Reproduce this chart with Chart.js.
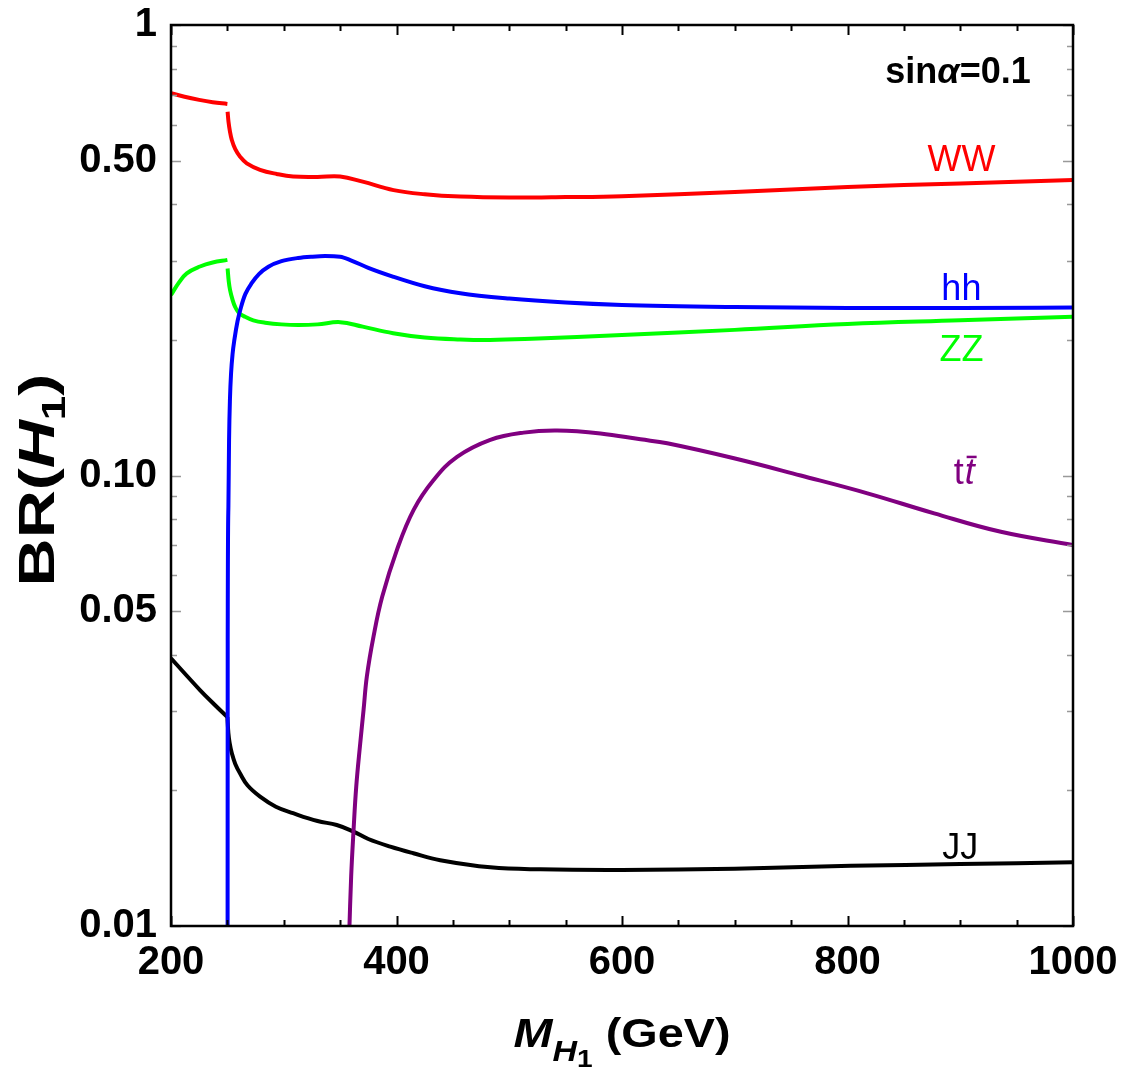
<!DOCTYPE html>
<html><head><meta charset="utf-8">
<script src="https://cdn.jsdelivr.net/npm/chart.js@4.4.1/dist/chart.umd.min.js"></script>
<style>html,body{margin:0;padding:0;background:#fff;}</style>
</head><body>
<canvas id="c" width="1125" height="1073"></canvas>
<script>
// ---- tick labels ----
const xTickValues = [200, 400, 600, 800, 1000];
const xTickLabels = ['200', '400', '600', '800', '1000'];
const yTickValues = [0.01, 0.05, 0.1, 0.5, 1];
const yTickLabels = ['0.01', '0.05', '0.10', '0.50', '1'];

// ---- series (mass in GeV, branching ratio); null = break in the curve ----
const wwMass = [200, 212, 225, 237, 250, 250.1, 250.2, 251, 252.3, 253.9, 257, 261.3, 267.2, 279, 293.8, 308.3, 330, 350, 370, 397.4, 425, 456.6, 500, 550, 600, 700, 800, 900, 1000];
const wwBR   = [0.706, 0.693, 0.682, 0.674, 0.668, null, 0.642, 0.61, 0.58, 0.556, 0.53, 0.510, 0.493, 0.477, 0.467, 0.461, 0.460, 0.461, 0.449, 0.430, 0.421, 0.416, 0.414, 0.415, 0.417, 0.426, 0.437, 0.445, 0.453];

const hhMass = [250.2, 250.3, 250.9, 251.5, 252.3, 253.3, 254.6, 256.2, 259, 262.2, 266, 271.7, 278, 286.4, 298, 312.8, 325, 336.7, 350, 360, 375, 397.4, 425, 456.6, 500, 550, 600, 700, 800, 900, 1000];
const hhBR   = [0.0095, 0.043, 0.085, 0.12, 0.148, 0.169, 0.186, 0.2, 0.22, 0.237, 0.253, 0.2676, 0.28, 0.2907, 0.299, 0.304, 0.306, 0.307, 0.306, 0.300, 0.289, 0.276, 0.263, 0.2538, 0.247, 0.242, 0.239, 0.2365, 0.2355, 0.2355, 0.236];

const zzMass = [200, 207, 214, 225.7, 237, 250, 250.1, 250.2, 251.2, 252.4, 254.5, 256.8, 260, 265.7, 273, 283.5, 298, 312.8, 330, 350, 370, 397, 425, 456.6, 483, 520, 600, 700, 800, 900, 1000];
const zzBR   = [0.2516, 0.268, 0.281, 0.291, 0.297, 0.301, null, 0.288, 0.27, 0.258, 0.246, 0.237, 0.23, 0.225, 0.221, 0.2184, 0.2165, 0.2158, 0.2165, 0.219, 0.214, 0.207, 0.2025, 0.2005, 0.2, 0.2012, 0.205, 0.2105, 0.2169, 0.221, 0.2252];

const ttMass = [358.0, 359.8, 361.9, 364.3, 367.8, 370.8, 373.7, 379.6, 387.3, 400.4, 415.2, 432.9, 453.7, 483.2, 512.8, 542.5, 580.9, 616.4, 640.1, 699.3, 758.5, 817.7, 876.9, 936, 1000];
const ttBR   = [0.0095, 0.0129, 0.0163, 0.0204, 0.0254, 0.0302, 0.0358, 0.0439, 0.0538, 0.0684, 0.0839, 0.0977, 0.110, 0.120, 0.1245, 0.1258, 0.124, 0.1203, 0.1179, 0.1092, 0.1, 0.0913, 0.0824, 0.075, 0.0701];

const jjMass = [200, 212, 225.7, 238, 250, 250.005, 250.01, 250.9, 252, 253.9, 257, 261.3, 268, 279, 293, 308.3, 330, 347, 361.9, 375, 394.5, 415, 438.8, 483.2, 527.6, 600, 700, 803, 900, 1000];
const jjBR   = [0.0393, 0.0364, 0.0334, 0.0311, 0.0291, null, 0.0291, 0.0268, 0.0255, 0.0242, 0.0229, 0.0218, 0.0205, 0.01937, 0.0184, 0.0178, 0.0171, 0.01676, 0.0162, 0.0156, 0.0150, 0.0145, 0.0140, 0.0135, 0.01336, 0.01332, 0.0134, 0.0136, 0.01372, 0.01385];

const seriesNames  = ['WW', 'hh', 'ZZ', 'tt', 'JJ'];
const seriesColors = ['#ff0000', '#0000ff', '#00ff00', '#800080', '#000000'];
const seriesCurve  = ['default', 'monotone', 'default', 'default', 'default'];

// curve label anchors (mass, BR)
const curveLabels = [
  {text: 'WW', mass: 901, br: 0.50, color: '#ff0000'},
  {text: 'hh', mass: 901, br: 0.258, color: '#0000ff'},
  {text: 'ZZ', mass: 901, br: 0.189, color: '#00ff00'},
  {text: 'JJ', mass: 900, br: 0.0148, color: '#000000'}
];

const toXY = (m, b) => m.map((x, i) => ({x: x, y: b[i]}));
const seriesData = [toXY(wwMass, wwBR), toXY(hhMass, hhBR), toXY(zzMass, zzBR), toXY(ttMass, ttBR), toXY(jjMass, jjBR)];

const FONT = '"Liberation Sans", Arial, sans-serif';

const framePlugin = {
  id: 'frame',
  afterDatasetsDraw(chart) {
    const {ctx, chartArea: a, scales: {x, y}} = chart;
    ctx.save();
    // x ticks (inward, top and bottom)
    ctx.strokeStyle = '#000';
    ctx.lineWidth = 2;
    for (let v = 200; v <= 1000; v += 50) {
      const px = Math.round(x.getPixelForValue(v)) + 0.5;
      const len = (v % 200 === 0) ? 10 : 6;
      ctx.beginPath();
      ctx.moveTo(px, a.bottom); ctx.lineTo(px, a.bottom - len);
      ctx.moveTo(px, a.top); ctx.lineTo(px, a.top + len);
      ctx.stroke();
    }
    // y ticks (gray, inward, left and right)
    ctx.strokeStyle = '#999';
    ctx.lineWidth = 1.5;
    const yMinor = [];
    for (let d of [0.01, 0.1]) for (let k = 1; k <= 9; k++) yMinor.push(+(d * k).toFixed(3));
    yMinor.push(1);
    yMinor.forEach(v => {
      const py = Math.round(y.getPixelForValue(v)) + 0.5;
      const major = yTickValues.some(t => Math.abs(t - v) < 1e-9);
      const len = major ? 10 : 6;
      ctx.beginPath();
      ctx.moveTo(a.left, py); ctx.lineTo(a.left + len, py);
      ctx.moveTo(a.right, py); ctx.lineTo(a.right - len, py);
      ctx.stroke();
    });
    // frame
    ctx.strokeStyle = '#000';
    ctx.lineWidth = 2.5;
    ctx.strokeRect(a.left, a.top, a.right - a.left, a.bottom - a.top);
    ctx.restore();
  },
  afterDraw(chart) {
    const {ctx, chartArea: a, scales: {x, y}} = chart;
    ctx.save();
    // curve labels
    ctx.textAlign = 'center';
    ctx.textBaseline = 'middle';
    curveLabels.forEach(l => {
      ctx.fillStyle = l.color;
      ctx.font = '36px ' + FONT;
      ctx.fillText(l.text, x.getPixelForValue(l.mass), y.getPixelForValue(l.br));
    });
    // t tbar label
    {
      const cx = x.getPixelForValue(903), cy = y.getPixelForValue(0.1008);
      ctx.fillStyle = '#800080';
      ctx.textBaseline = 'middle';
      ctx.textAlign = 'left';
      ctx.font = '36px ' + FONT;
      const w1 = ctx.measureText('t').width;
      ctx.font = 'italic 36px ' + FONT;
      const w2 = ctx.measureText('t').width;
      const sx = cx - (w1 + w2) / 2;
      ctx.font = '36px ' + FONT;
      ctx.fillText('t', sx, cy);
      ctx.font = 'italic 36px ' + FONT;
      ctx.fillText('t', sx + w1 + 1, cy);
      ctx.strokeStyle = '#800080';
      ctx.lineWidth = 2.5;
      ctx.beginPath();
      ctx.moveTo(sx + w1 + 3, cy - 17); ctx.lineTo(sx + w1 + w2 + 3, cy - 17);
      ctx.stroke();
    }
    // sin alpha label
    {
      const cx = x.getPixelForValue(898), base = 83;
      const parts = [['bold 36px ', 'sin'], ['bold italic 36px ', 'α'], ['bold 36px ', '=0.1']];
      ctx.fillStyle = '#000';
      ctx.textBaseline = 'alphabetic';
      ctx.textAlign = 'left';
      let tw = 0;
      parts.forEach(p => { ctx.font = p[0] + FONT; tw += ctx.measureText(p[1]).width; });
      let px = cx - tw / 2;
      parts.forEach(p => { ctx.font = p[0] + FONT; ctx.fillText(p[1], px, base); px += ctx.measureText(p[1]).width; });
    }
    // x title
    {
      const parts = [
        ['bold italic 40px ', 'M', 0],
        ['bold italic 29px ', 'H', 14],
        ['bold 24px ', '1', 20],
        ['bold 40px ', ' (GeV)', 0]
      ];
      const sx = 1.17;
      ctx.fillStyle = '#000';
      ctx.textAlign = 'left';
      ctx.textBaseline = 'alphabetic';
      let tw = 0;
      parts.forEach(p => { ctx.font = p[0] + FONT; tw += ctx.measureText(p[1]).width; });
      const cx = (a.left + a.right) / 2;
      ctx.save();
      ctx.translate(cx - tw * sx / 2, 1047);
      ctx.scale(sx, 1);
      let px = 0;
      parts.forEach(p => { ctx.font = p[0] + FONT; ctx.fillText(p[1], px, p[2]); px += ctx.measureText(p[1]).width; });
      ctx.restore();
    }
    // y title
    {
      const parts = [
        ['bold 50px ', 'BR(', 0],
        ['bold italic 50px ', 'H', 0],
        ['bold 33px ', '1', 11],
        ['bold 50px ', ')', 0]
      ];
      const sx = 1.33;
      ctx.fillStyle = '#000';
      ctx.textAlign = 'left';
      ctx.textBaseline = 'alphabetic';
      let tw = 0;
      parts.forEach(p => { ctx.font = p[0] + FONT; tw += ctx.measureText(p[1]).width; });
      const cy = 480;
      ctx.save();
      ctx.translate(54, cy + tw * sx / 2);
      ctx.rotate(-Math.PI / 2);
      ctx.scale(sx, 1);
      let px = 0;
      parts.forEach(p => { ctx.font = p[0] + FONT; ctx.fillText(p[1], px, p[2]); px += ctx.measureText(p[1]).width; });
      ctx.restore();
    }
    ctx.restore();
  }
};

new Chart(document.getElementById('c').getContext('2d'), {
  type: 'line',
  data: {
    datasets: seriesData.map((d, i) => ({
      label: seriesNames[i],
      data: d,
      borderColor: seriesColors[i],
      backgroundColor: seriesColors[i],
      borderWidth: 4,
      pointRadius: 0,
      fill: false,
      spanGaps: false,
      tension: 0.4,
      cubicInterpolationMode: seriesCurve[i],
      clip: 0
    }))
  },
  options: {
    responsive: false,
    animation: false,
    layout: {padding: {left: 0, right: 52, top: 25, bottom: 0}},
    plugins: {legend: {display: false}, tooltip: {enabled: false}},
    scales: {
      x: {
        type: 'linear', min: 200, max: 1000,
        afterBuildTicks: s => { s.ticks = xTickValues.map(v => ({value: v})); },
        afterFit: s => { s.height = 147; s.paddingLeft = 0; s.paddingRight = 0; },
        ticks: {
          font: {family: FONT, weight: 'bold', size: 40}, color: '#000', padding: 13, maxRotation: 0, autoSkip: false,
          callback: (v) => { const i = xTickValues.indexOf(v); return i >= 0 ? xTickLabels[i] : ''; }
        },
        grid: {display: false, drawTicks: false},
        border: {display: false}
      },
      y: {
        type: 'logarithmic', min: 0.01, max: 1,
        afterBuildTicks: s => { s.ticks = yTickValues.map(v => ({value: v})); },
        afterFit: s => { s.width = 171; s.paddingTop = 0; s.paddingBottom = 0; },
        ticks: {
          font: {family: FONT, weight: 'bold', size: 40}, color: '#000', padding: 14, autoSkip: false,
          callback: (v) => { const i = yTickValues.findIndex(t => Math.abs(t - v) < 1e-9); return i >= 0 ? yTickLabels[i] : ''; }
        },
        grid: {display: false, drawTicks: false},
        border: {display: false}
      }
    }
  },
  plugins: [framePlugin]
});
</script>
</body></html>
